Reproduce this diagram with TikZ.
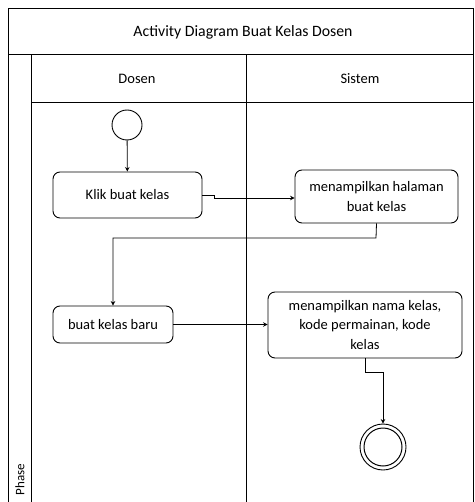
\documentclass[tikz,border=0pt]{standalone}
\usepackage{fontspec}
\setmainfont{Carlito}
\usetikzlibrary{arrows.meta}
\begin{document}
\begin{tikzpicture}[x=1pt,y=-1pt,
  lane/.style={draw=black,line width=1pt},
  act/.style={draw=black,line width=0.9pt,rounded corners=7pt,align=center,font=\fontsize{14.5}{19.5}\selectfont,inner sep=0pt},
  flow/.style={draw=black,line width=0.8pt,-{Stealth[length=4.5pt,width=4.5pt]}},
  lbl/.style={font=\fontsize{14.5}{17}\selectfont}]
\useasboundingbox (0,0) rectangle (474,502);
% frame
\draw[lane] (8,9) rectangle (473,505);
\draw[lane] (8,55) -- (473,55);
\draw[lane] (31,55) -- (31,505);
\draw[lane] (31,103) -- (473,103);
\draw[lane] (246,55) -- (246,505);
\node[font=\fontsize{15.8}{18}\selectfont] (title) at (243,32) {Activity Diagram Buat Kelas Dosen};
\node[lbl] (ldosen) at (137,79) {Dosen};
\node[lbl] (lsistem) at (360,79) {Sistem};
\node[font=\fontsize{13}{15}\selectfont,rotate=90,anchor=west] (phase) at (20,499) {Phase};
% nodes
\node[draw=black,line width=0.9pt,circle,minimum size=30pt,inner sep=0pt] (start) at (127,125) {};
\node[act,minimum width=149pt,minimum height=46pt] (klik) at (127.5,195) {Klik buat kelas};
\node[act,minimum width=163pt,minimum height=53pt] (hal) at (376.5,196.5) {menampilkan halaman\\buat kelas};
\node[act,minimum width=120pt,minimum height=37pt] (baru) at (113,324.5) {buat kelas baru};
\node[act,minimum width=194pt,minimum height=66pt] (nama) at (365,325) {menampilkan nama kelas,\\kode permainan, kode\\kelas};
\node[draw=black,line width=0.9pt,circle,minimum size=46pt,inner sep=0pt] (end) at (383,447) {};
\node[draw=black,line width=1pt,circle,minimum size=38pt,inner sep=0pt] (endin) at (383,447) {};
% flows
\draw[flow] (start) -- (klik);
\draw[flow] (klik.east) -- (214,195) -- (214,198) -- (hal.west |- 0,198);
\draw[flow] (hal.south) -- (376,238) -- (113,238) -- (baru.north);
\draw[flow] (baru.east) -- (nama.west |- baru.east);
\draw[flow] (nama.south) -- (365,372) -- (383,372) -- (end.north);
\end{tikzpicture}
\end{document}
